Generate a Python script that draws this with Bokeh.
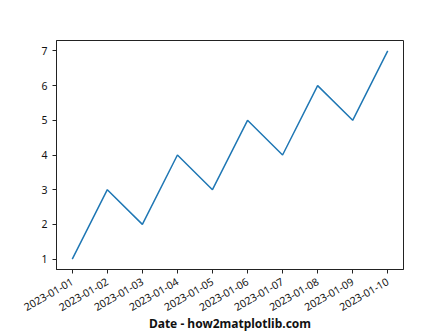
import math
from datetime import datetime
from bokeh.plotting import figure
from bokeh.models import Range1d, FixedTicker, DatetimeTickFormatter
from bokeh.embed import file_html
from bokeh.resources import INLINE

dates = ["2023-01-01", "2023-01-02", "2023-01-03", "2023-01-04", "2023-01-05",
         "2023-01-06", "2023-01-07", "2023-01-08", "2023-01-09", "2023-01-10"]
values = [1, 3, 2, 4, 3, 5, 4, 6, 5, 7]
y_ticks = [1, 2, 3, 4, 5, 6, 7]

xs = [datetime.strptime(d, "%Y-%m-%d") for d in dates]
ms = [x.timestamp() * 1000 for x in xs]
span = ms[-1] - ms[0]
pad = span * 0.05
ypad = (max(values) - min(values)) * 0.05

FONT = "Noto Sans"
p = figure(width=448, height=336, output_backend="svg", toolbar_location=None,
           x_axis_type="datetime",
           x_range=Range1d(ms[0] - pad, ms[-1] + pad),
           y_range=Range1d(min(values) - ypad, max(values) + ypad),
           min_border_left=56, min_border_right=45, min_border_top=40, min_border_bottom=67)

p.line(xs, values, line_color="#1f77b4", line_width=1.5)

p.xgrid.visible = False
p.ygrid.visible = False
p.outline_line_color = "#222222"
p.outline_line_width = 1

p.xaxis.ticker = FixedTicker(ticks=ms)
p.xaxis.formatter = DatetimeTickFormatter(days="%Y-%m-%d", months="%Y-%m-%d", hours="%Y-%m-%d")
p.xaxis.major_label_orientation = math.pi / 6
p.yaxis.ticker = FixedTicker(ticks=y_ticks)

for ax in (p.xaxis[0], p.yaxis[0]):
    ax.major_label_text_font = FONT
    ax.major_label_text_font_size = "10.5px"
    ax.major_label_text_color = "#111111"
    ax.axis_line_color = "#222222"
    ax.major_tick_line_color = "#222222"
    ax.major_tick_out = 4
    ax.major_tick_in = 0
    ax.minor_tick_line_color = None

p.xaxis.major_label_standoff = 7
p.yaxis.major_label_standoff = 5

p.xaxis.axis_label = "Date - how2matplotlib.com"
p.xaxis.axis_label_text_font = FONT
p.xaxis.axis_label_text_font_style = "bold"
p.xaxis.axis_label_text_font_size = "12px"
p.xaxis.axis_label_text_color = "#111111"
p.xaxis.axis_label_standoff = -3

open("out.html", "w").write(file_html(p, INLINE))
